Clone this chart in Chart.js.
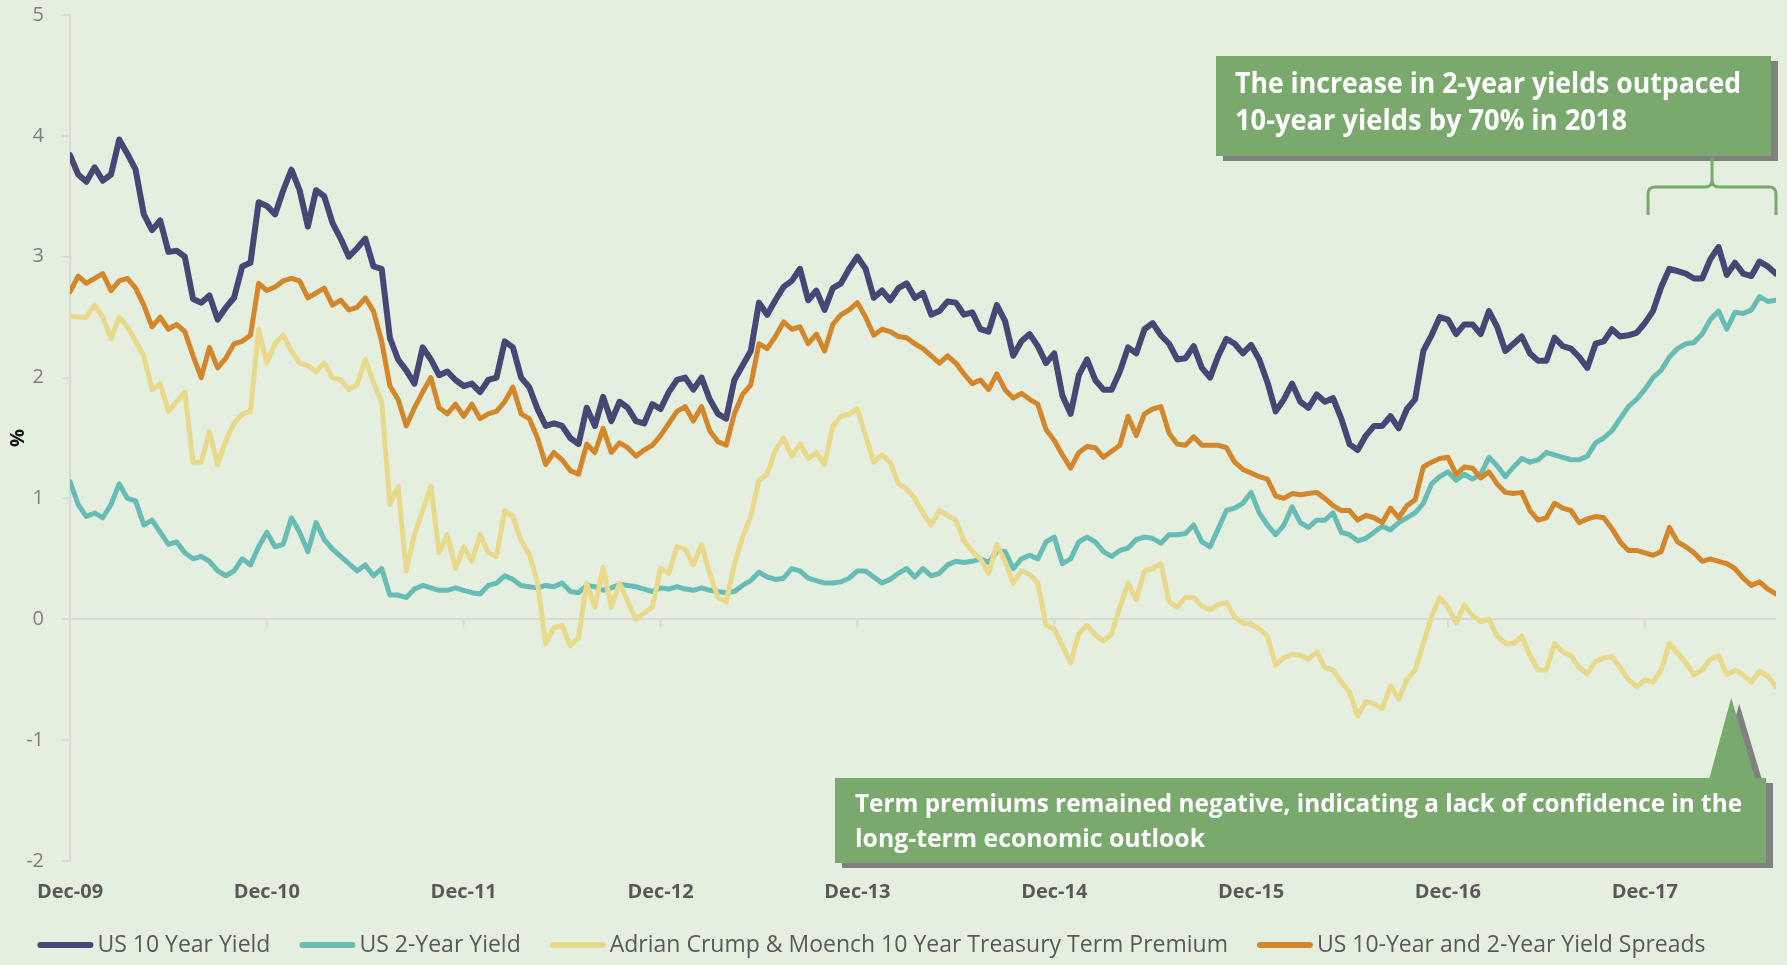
<!DOCTYPE html>
<html>
<head>
<meta charset="utf-8">
<script src="https://cdn.jsdelivr.net/npm/chart.js@4.4.1/dist/chart.umd.min.js"></script>
<style>
  html, body { margin: 0; padding: 0; background: #e4efe0; }
  #wrap { width: 1787px; height: 965px; }
</style>
</head>
<body>
<div id="wrap"><canvas id="yieldChart" width="1787" height="965"></canvas></div>
<script>
// months after Dec-2009, two readings per month
var months = [
  0,0.5,1,1.5,2,2.5,3,3.5,4,4.5,5,5.5,6,6.5,7,7.5,8,8.5,9,9.5,10,10.5,11,11.5,
  12,12.5,13,13.5,14,14.5,15,15.5,16,16.5,17,17.5,18,18.5,19,19.5,20,20.5,21,21.5,22,22.5,23,23.5,
  24,24.5,25,25.5,26,26.5,27,27.5,28,28.5,29,29.5,30,30.5,31,31.5,32,32.5,33,33.5,34,34.5,35,35.5,
  36,36.5,37,37.5,38,38.5,39,39.5,40,40.5,41,41.5,42,42.5,43,43.5,44,44.5,45,45.5,46,46.5,47,47.5,
  48,48.5,49,49.5,50,50.5,51,51.5,52,52.5,53,53.5,54,54.5,55,55.5,56,56.5,57,57.5,58,58.5,59,59.5,
  60,60.5,61,61.5,62,62.5,63,63.5,64,64.5,65,65.5,66,66.5,67,67.5,68,68.5,69,69.5,70,70.5,71,71.5,
  72,72.5,73,73.5,74,74.5,75,75.5,76,76.5,77,77.5,78,78.5,79,79.5,80,80.5,81,81.5,82,82.5,83,83.5,
  84,84.5,85,85.5,86,86.5,87,87.5,88,88.5,89,89.5,90,90.5,91,91.5,92,92.5,93,93.5,94,94.5,95,95.5,
  96,96.5,97,97.5,98,98.5,99,99.5,100,100.5,101,101.5,102,102.5,103,103.5,104
];

var tenYear = [
  3.84,3.68,3.62,3.74,3.63,3.68,3.97,3.85,3.72,3.35,3.22,3.3,3.04,3.05,3.0,2.65,2.62,2.68,2.48,2.58,2.66,2.92,2.95,3.45,
  3.42,3.35,3.55,3.72,3.55,3.25,3.55,3.5,3.28,3.15,3.0,3.07,3.15,2.92,2.9,2.33,2.15,2.06,1.95,2.25,2.15,2.02,2.05,1.98,
  1.93,1.95,1.88,1.98,2.0,2.3,2.25,2.0,1.92,1.74,1.6,1.62,1.6,1.5,1.45,1.75,1.6,1.84,1.64,1.8,1.75,1.64,1.62,1.78,
  1.74,1.88,1.98,2.0,1.9,2.0,1.82,1.7,1.66,1.98,2.1,2.22,2.62,2.52,2.64,2.75,2.8,2.9,2.64,2.72,2.56,2.74,2.78,2.9,
  3.0,2.9,2.66,2.72,2.64,2.74,2.78,2.66,2.7,2.52,2.55,2.63,2.62,2.52,2.54,2.4,2.38,2.6,2.47,2.18,2.3,2.36,2.26,2.12,
  2.2,1.85,1.7,2.02,2.15,1.98,1.9,1.9,2.05,2.25,2.2,2.4,2.45,2.35,2.28,2.15,2.16,2.26,2.08,2.0,2.18,2.32,2.28,2.2,
  2.27,2.15,1.96,1.72,1.82,1.95,1.8,1.75,1.86,1.8,1.83,1.66,1.45,1.4,1.52,1.6,1.6,1.68,1.58,1.74,1.82,2.22,2.35,2.5,
  2.48,2.36,2.44,2.44,2.36,2.55,2.42,2.22,2.28,2.34,2.2,2.14,2.14,2.33,2.26,2.24,2.17,2.08,2.28,2.3,2.4,2.34,2.35,2.37,
  2.45,2.55,2.75,2.9,2.88,2.86,2.82,2.82,2.98,3.08,2.85,2.95,2.86,2.84,2.96,2.92,2.86
];

var twoYear = [
  1.14,0.95,0.85,0.88,0.84,0.95,1.12,1.0,0.98,0.78,0.82,0.72,0.62,0.64,0.55,0.5,0.52,0.48,0.4,0.36,0.4,0.5,0.45,0.6,
  0.72,0.6,0.62,0.84,0.72,0.56,0.8,0.66,0.58,0.52,0.46,0.4,0.45,0.36,0.42,0.2,0.2,0.18,0.25,0.28,0.26,0.24,0.24,0.26,
  0.24,0.22,0.21,0.28,0.3,0.36,0.33,0.28,0.27,0.26,0.28,0.27,0.3,0.23,0.22,0.28,0.27,0.24,0.26,0.29,0.28,0.27,0.25,0.23,
  0.26,0.25,0.27,0.25,0.24,0.26,0.24,0.23,0.22,0.23,0.28,0.32,0.39,0.35,0.33,0.34,0.42,0.4,0.34,0.32,0.3,0.3,0.31,0.34,
  0.4,0.4,0.35,0.3,0.33,0.38,0.42,0.35,0.42,0.36,0.38,0.45,0.48,0.47,0.48,0.5,0.47,0.56,0.56,0.42,0.5,0.53,0.5,0.64,
  0.68,0.46,0.5,0.64,0.68,0.64,0.56,0.52,0.57,0.59,0.66,0.68,0.67,0.63,0.7,0.7,0.71,0.78,0.64,0.6,0.75,0.9,0.92,0.96,
  1.05,0.88,0.78,0.7,0.78,0.93,0.8,0.76,0.82,0.82,0.88,0.72,0.7,0.65,0.67,0.72,0.77,0.74,0.8,0.84,0.88,0.96,1.12,1.18,
  1.22,1.15,1.2,1.16,1.2,1.34,1.27,1.18,1.26,1.33,1.3,1.32,1.38,1.36,1.34,1.32,1.32,1.35,1.46,1.5,1.56,1.66,1.76,1.82,
  1.9,2.0,2.06,2.17,2.24,2.28,2.29,2.36,2.48,2.55,2.4,2.54,2.53,2.56,2.67,2.63,2.64
];

var termPremium = [
  2.51,2.5,2.5,2.6,2.5,2.32,2.5,2.42,2.3,2.18,1.9,1.95,1.72,1.8,1.88,1.3,1.3,1.55,1.28,1.48,1.62,1.7,1.72,2.4,
  2.12,2.28,2.35,2.22,2.12,2.1,2.05,2.12,2.0,1.98,1.9,1.94,2.15,1.96,1.8,0.95,1.1,0.4,0.7,0.9,1.1,0.55,0.7,0.42,
  0.6,0.48,0.7,0.55,0.52,0.9,0.85,0.65,0.54,0.3,-0.2,-0.07,-0.05,-0.22,-0.15,0.3,0.1,0.43,0.1,0.3,0.15,0.0,0.05,0.1,
  0.42,0.38,0.6,0.58,0.45,0.62,0.38,0.18,0.14,0.45,0.68,0.85,1.15,1.2,1.4,1.5,1.35,1.45,1.33,1.38,1.28,1.6,1.68,1.7,
  1.74,1.52,1.3,1.36,1.3,1.12,1.08,1.0,0.88,0.78,0.9,0.86,0.82,0.65,0.56,0.5,0.38,0.62,0.48,0.3,0.4,0.37,0.3,-0.05,
  -0.08,-0.22,-0.36,-0.12,-0.05,-0.13,-0.18,-0.12,0.1,0.3,0.16,0.4,0.42,0.46,0.15,0.1,0.18,0.18,0.11,0.08,0.12,0.14,0.02,-0.03,
  -0.04,-0.08,-0.14,-0.38,-0.32,-0.29,-0.3,-0.33,-0.27,-0.4,-0.42,-0.52,-0.6,-0.8,-0.68,-0.7,-0.74,-0.55,-0.66,-0.5,-0.42,-0.2,0.02,0.18,
  0.1,-0.03,0.12,0.03,-0.02,0.0,-0.14,-0.2,-0.2,-0.14,-0.3,-0.42,-0.42,-0.2,-0.27,-0.3,-0.4,-0.45,-0.35,-0.32,-0.31,-0.4,-0.5,-0.56,
  -0.5,-0.52,-0.42,-0.2,-0.28,-0.36,-0.46,-0.42,-0.33,-0.3,-0.46,-0.42,-0.46,-0.52,-0.43,-0.47,-0.56
];

var spread = [
  2.71,2.84,2.78,2.82,2.86,2.72,2.8,2.82,2.74,2.6,2.42,2.5,2.4,2.44,2.38,2.18,2.0,2.25,2.08,2.16,2.28,2.3,2.35,2.78,
  2.72,2.75,2.8,2.82,2.8,2.66,2.7,2.74,2.6,2.64,2.56,2.58,2.66,2.55,2.3,1.93,1.82,1.6,1.75,1.88,2.0,1.75,1.7,1.78,
  1.68,1.78,1.66,1.7,1.72,1.8,1.92,1.7,1.66,1.5,1.28,1.38,1.32,1.23,1.2,1.45,1.38,1.58,1.38,1.46,1.42,1.35,1.4,1.44,
  1.52,1.62,1.72,1.76,1.64,1.76,1.56,1.47,1.44,1.7,1.86,1.94,2.28,2.24,2.34,2.46,2.4,2.42,2.28,2.36,2.22,2.44,2.52,2.56,
  2.62,2.5,2.35,2.4,2.38,2.34,2.33,2.28,2.24,2.18,2.12,2.18,2.12,2.03,1.95,1.98,1.9,2.03,1.9,1.83,1.87,1.82,1.78,1.57,
  1.48,1.36,1.25,1.38,1.43,1.42,1.34,1.39,1.44,1.68,1.52,1.7,1.74,1.76,1.54,1.45,1.44,1.51,1.44,1.44,1.44,1.42,1.3,1.24,
  1.21,1.18,1.16,1.02,1.0,1.04,1.03,1.04,1.05,1.0,0.94,0.9,0.9,0.82,0.86,0.84,0.8,0.92,0.84,0.94,0.99,1.26,1.3,1.33,
  1.34,1.2,1.26,1.25,1.17,1.22,1.12,1.05,1.04,1.05,0.9,0.82,0.84,0.96,0.92,0.9,0.8,0.83,0.85,0.84,0.75,0.64,0.57,0.57,
  0.55,0.53,0.56,0.76,0.64,0.6,0.55,0.48,0.5,0.48,0.46,0.42,0.34,0.28,0.31,0.25,0.21
];

var tickMonths = [0, 12, 24, 36, 48, 60, 72, 84, 96];
var tickLabels = ['Dec-09', 'Dec-10', 'Dec-11', 'Dec-12', 'Dec-13', 'Dec-14', 'Dec-15', 'Dec-16', 'Dec-17'];

var FONT = '"Open Sans", Lato, sans-serif';
var GREEN = '#79a96d';
var SHADOW = '#808080';

function points(values) {
  return values.map(function (v, i) { return { x: months[i], y: v }; });
}

// y=0 gets the little year ticks, like the excel axis crossing
var zeroTicks = {
  id: 'zeroTicks',
  beforeDatasetsDraw: function (chart) {
    var ctx = chart.ctx, x = chart.scales.x, y = chart.scales.y;
    var y0 = y.getPixelForValue(0);
    ctx.save();
    ctx.strokeStyle = '#d9d9d9';
    ctx.lineWidth = 2;
    tickMonths.forEach(function (m) {
      var px = x.getPixelForValue(m);
      ctx.beginPath();
      ctx.moveTo(px, y0);
      ctx.lineTo(px, y0 + 8);
      ctx.stroke();
    });
    ctx.restore();
  }
};

// one row legend under the axis labels
var legendRow = {
  id: 'legendRow',
  afterDraw: function (chart) {
    var ctx = chart.ctx, sets = chart.data.datasets;
    var sw = 50, gap = 7, space = 32, y = 945;
    ctx.save();
    ctx.font = '23px ' + FONT;
    var widths = sets.map(function (ds) { return ctx.measureText(ds.label).width; });
    var total = widths.reduce(function (a, w) { return a + sw + gap + w; }, 0) + space * (sets.length - 1);
    var x = 873 - total / 2;
    sets.forEach(function (ds, i) {
      ctx.strokeStyle = ds.borderColor;
      ctx.lineWidth = 6;
      ctx.lineCap = 'round';
      ctx.beginPath();
      ctx.moveTo(x, y);
      ctx.lineTo(x + sw, y);
      ctx.stroke();
      ctx.fillStyle = '#595959';
      ctx.textBaseline = 'middle';
      ctx.fillText(ds.label, x + sw + gap, y);
      x += sw + gap + widths[i] + space;
    });
    ctx.restore();
  }
};

function box(ctx, x, y, w, h) {
  ctx.fillStyle = SHADOW;
  ctx.fillRect(x + 7, y + 5, w, h);
  ctx.fillStyle = GREEN;
  ctx.fillRect(x, y, w, h);
}

var callouts = {
  id: 'callouts',
  afterDraw: function (chart) {
    var ctx = chart.ctx, xs = chart.scales.x, ys = chart.scales.y;
    ctx.save();

    // top callout
    box(ctx, 1216, 56, 555, 100);
    ctx.fillStyle = '#ffffff';
    ctx.font = 'bold 28px ' + FONT;
    ctx.textBaseline = 'alphabetic';
    ctx.fillText('The increase in 2-year yields outpaced', 1235, 93, 506);
    ctx.fillText('10-year yields by 70% in 2018', 1235, 130, 392);

    // brace over 2018
    var L = xs.getPixelForValue(96.2), R = chart.chartArea.right, C = (L + R) / 2;
    var yb = 187, yEnd = 215, r = 7;
    ctx.strokeStyle = GREEN;
    ctx.lineWidth = 3;
    ctx.beginPath();
    ctx.moveTo(L, yEnd);
    ctx.lineTo(L, yb + r);
    ctx.quadraticCurveTo(L, yb, L + r, yb);
    ctx.lineTo(C - r, yb);
    ctx.quadraticCurveTo(C, yb, C, yb - r);
    ctx.lineTo(C, 157);
    ctx.moveTo(C, yb - r);
    ctx.quadraticCurveTo(C, yb, C + r, yb);
    ctx.lineTo(R - r, yb);
    ctx.quadraticCurveTo(R, yb, R, yb + r);
    ctx.lineTo(R, yEnd);
    ctx.stroke();

    // bottom callout with pointer at the 2018 term premium
    var ax = xs.getPixelForValue(101.27), ay = ys.getPixelForValue(-0.65);
    var bx = 835, by = 778, bw = 931, bh = 85;
    ctx.fillStyle = SHADOW;
    ctx.beginPath();
    ctx.moveTo(ax + 8, ay + 6);
    ctx.lineTo(ax + 32, by + 6);
    ctx.lineTo(ax - 14, by + 6);
    ctx.closePath();
    ctx.fill();
    box(ctx, bx, by, bw, bh);
    ctx.fillStyle = GREEN;
    ctx.beginPath();
    ctx.moveTo(ax, ay);
    ctx.lineTo(ax + 24, by + 1);
    ctx.lineTo(ax - 22, by + 1);
    ctx.closePath();
    ctx.fill();
    ctx.fillStyle = '#ffffff';
    ctx.font = 'bold 25px ' + FONT;
    ctx.fillText('Term premiums remained negative, indicating a lack of confidence in the', 855, 812, 887);
    ctx.fillText('long-term economic outlook', 855, 847, 350);

    ctx.restore();
  }
};

var ctx = document.getElementById('yieldChart').getContext('2d');
var chart = new Chart(ctx, {
  type: 'line',
  data: {
    datasets: [{
      label: 'US 10 Year Yield',
      data: points(tenYear),
      borderColor: '#474775',
      borderWidth: 6,
      order: 4
    }, {
      label: 'US 2-Year Yield',
      data: points(twoYear),
      borderColor: '#67bcb5',
      borderWidth: 5,
      order: 3
    }, {
      label: 'Adrian Crump & Moench 10 Year Treasury Term Premium',
      data: points(termPremium),
      borderColor: '#e8d98b',
      borderWidth: 5,
      order: 2
    }, {
      label: 'US 10-Year and 2-Year Yield Spreads',
      data: points(spread),
      borderColor: '#d4872a',
      borderWidth: 5,
      order: 1
    }]
  },
  options: {
    responsive: false,
    animation: false,
    layout: { padding: { left: 0, right: 11, top: 15, bottom: 0 } },
    elements: {
      point: { radius: 0 },
      line: { tension: 0, borderJoinStyle: 'round', borderCapStyle: 'round' }
    },
    scales: {
      x: {
        type: 'linear',
        min: 0,
        max: 104,
        grid: { display: false, drawTicks: false },
        border: { display: false },
        afterBuildTicks: function (s) { s.ticks = tickMonths.map(function (m) { return { value: m }; }); },
        afterFit: function (s) { s.height = 104; },
        ticks: {
          autoSkip: false,
          maxRotation: 0,
          padding: 19,
          color: '#595959',
          font: { family: FONT, size: 20, weight: 'bold' },
          callback: function (v, i) { return tickLabels[i]; }
        }
      },
      y: {
        min: -2,
        max: 5,
        afterFit: function (s) {
          s.width = 70;
          // tick padding is horizontal here, don't let it push the plot down
          s.paddingTop = 12;
          s.paddingBottom = 12;
        },
        ticks: {
          stepSize: 1,
          padding: 18,
          color: '#7f7f7f',
          font: { family: FONT, size: 20 }
        },
        grid: {
          color: function (c) { return c.tick && c.tick.value === 0 ? '#d9d9d9' : 'rgba(0,0,0,0)'; },
          tickColor: '#d9d9d9',
          lineWidth: 2,
          tickLength: 8
        },
        border: { color: '#d9d9d9', width: 2 },
        title: {
          display: true,
          text: '%',
          color: '#111111',
          font: { family: FONT, size: 20, weight: 'bold' },
          padding: { top: 6, bottom: 0 }
        }
      }
    },
    plugins: {
      tooltip: { enabled: false },
      legend: { display: false }
    }
  },
  plugins: [zeroTicks, legendRow, callouts]
});
</script>
</body>
</html>
